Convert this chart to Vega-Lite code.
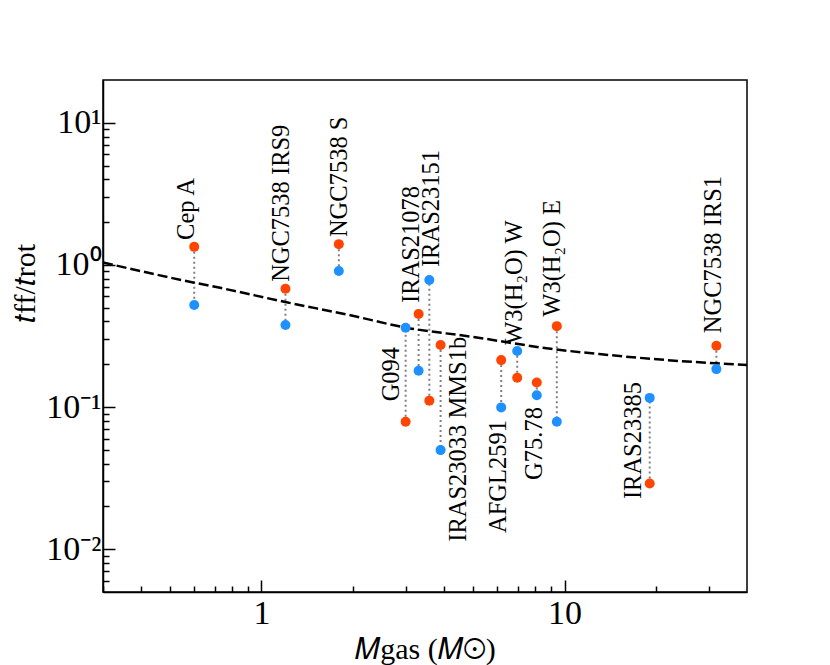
{
  "$schema": "https://vega.github.io/schema/vega-lite/v6.json",
  "width": 644,
  "height": 512,
  "autosize": "none",
  "padding": {"left": 103, "top": 80, "right": 83, "bottom": 73},
  "background": "white",
  "config": {
    "view": {"stroke": "black", "strokeWidth": 1.5},
    "font": "Liberation Serif",
    "axis": {
      "domainColor": "black", "domainWidth": 1.5, "tickColor": "black", "tickWidth": 1.5,
      "grid": false, "labelFont": "Liberation Serif", "labelFontSize": 34, "labelColor": "black",
      "titleFont": "Liberation Serif", "titleFontSize": 30, "titleFontWeight": "normal", "titleColor": "black"
    }
  },
  "datasets": {
    "objects": [
      {"name": "Cep A", "M": 0.6, "red": 1.34, "blue": 0.522},
      {"name": "NGC7538 IRS9", "M": 1.2, "red": 0.68, "blue": 0.378},
      {"name": "NGC7538 S", "M": 1.8, "red": 1.40, "blue": 0.906},
      {"name": "G094", "M": 2.99, "red": 0.0788, "blue": 0.361},
      {"name": "IRAS21078", "M": 3.30, "red": 0.452, "blue": 0.18},
      {"name": "IRAS23151", "M": 3.58, "red": 0.111, "blue": 0.783},
      {"name": "IRAS23033 MMS1b", "M": 3.90, "red": 0.273, "blue": 0.0498},
      {"name": "AFGL2591", "M": 6.18, "red": 0.214, "blue": 0.0995},
      {"name": "W3(H2O) W", "M": 6.98, "red": 0.161, "blue": 0.248},
      {"name": "G75.78", "M": 8.1, "red": 0.149, "blue": 0.121},
      {"name": "W3(H2O) E", "M": 9.43, "red": 0.371, "blue": 0.0788},
      {"name": "IRAS23385", "M": 19.1, "red": 0.029, "blue": 0.116},
      {"name": "NGC7538 IRS1", "M": 31.7, "red": 0.27, "blue": 0.185}
    ],
    "curve": [
      {"M": 0.3, "r": 1.04},
      {"M": 0.6, "r": 0.75},
      {"M": 0.73, "r": 0.69},
      {"M": 1.2, "r": 0.548},
      {"M": 1.95, "r": 0.444},
      {"M": 3.0, "r": 0.362},
      {"M": 4.86, "r": 0.314},
      {"M": 9.4, "r": 0.254},
      {"M": 13.0, "r": 0.236},
      {"M": 31.7, "r": 0.203},
      {"M": 40, "r": 0.198}
    ],
    "labels": [
      {"label": "Cep A", "lx": 0.57, "ly": 1.50, "side": "above"},
      {"label": "NGC7538 IRS9", "lx": 1.17, "ly": 0.76, "side": "above"},
      {"label": "NGC7538 S", "lx": 1.81, "ly": 1.57, "side": "above"},
      {"label": "IRAS21078", "lx": 3.15, "ly": 0.54, "side": "above"},
      {"label": "IRAS23151", "lx": 3.64, "ly": 0.966, "side": "above"},
      {"label": "W3(H₂O) W", "lx": 6.84, "ly": 0.274, "side": "above"},
      {"label": "W3(H₂O) E", "lx": 9.13, "ly": 0.432, "side": "above"},
      {"label": "NGC7538 IRS1", "lx": 31.2, "ly": 0.331, "side": "above"},
      {"label": "G094", "lx": 2.69, "ly": 0.265, "side": "below"},
      {"label": "IRAS23033 MMS1b", "lx": 4.5, "ly": 0.312, "side": "below"},
      {"label": "AFGL2591", "lx": 6.1, "ly": 0.081, "side": "below"},
      {"label": "G75.78", "lx": 7.96, "ly": 0.1, "side": "below"},
      {"label": "IRAS23385", "lx": 17.0, "ly": 0.15, "side": "below"}
    ]
  },
  "layer": [
    {
      "data": {"name": "objects"},
      "mark": {"type": "rule", "color": "#808080", "strokeWidth": 2, "strokeDash": [2, 3]},
      "encoding": {
        "x": {"field": "M", "type": "quantitative",
          "scale": {"type": "log", "domain": [0.3, 40], "nice": false},
          "axis": {"orient": "bottom", "values": [1, 10], "tickSize": -12, "labelPadding": 16, "labelExpr": "datum.value == 1 ? '1' : '10'",
            "title": "𝑀gas (𝑀⊙)", "titlePadding": 4}},
        "y": {"field": "red", "type": "quantitative",
          "scale": {"type": "log", "domain": [0.005, 20], "nice": false},
          "axis": {"orient": "left", "values": [0.01, 0.1, 1, 10], "tickSize": -12, "labelPadding": 14,
            "labelExpr": "datum.value == 10 ? '10¹' : datum.value == 1 ? '10⁰' : datum.value == 0.1 ? '10⁻¹' : '10⁻²'",
            "title": "𝑡ff/𝑡rot", "titleAngle": 270, "titleX": -78, "titleY": 203, "titleBaseline": "middle", "titleAlign": "center"}},
        "y2": {"field": "blue"}
      }
    },
    {
      "data": {"name": "curve"},
      "mark": {"type": "line", "color": "black", "strokeWidth": 2.5, "strokeDash": [10, 4], "interpolate": "monotone"},
      "encoding": {
        "x": {"field": "M", "type": "quantitative",
          "axis": {"orient": "bottom", "values": [0.3, 0.4, 0.5, 0.6, 0.7, 0.8, 0.9, 2, 3, 4, 5, 6, 7, 8, 9, 20, 30], "tickSize": -6, "labels": false, "domain": false, "title": null}},
        "y": {"field": "r", "type": "quantitative",
          "axis": {"orient": "left", "values": [0.006, 0.007, 0.008, 0.009, 0.02, 0.03, 0.04, 0.05, 0.06, 0.07, 0.08, 0.09, 0.2, 0.3, 0.4, 0.5, 0.6, 0.7, 0.8, 0.9, 2, 3, 4, 5, 6, 7, 8, 9], "tickSize": -6, "labels": false, "domain": false, "title": null}}
      }
    },
    {
      "data": {"name": "objects"},
      "mark": {"type": "circle", "size": 100, "opacity": 1, "color": "#FF4500"},
      "encoding": {
        "x": {"field": "M", "type": "quantitative", "axis": null},
        "y": {"field": "red", "type": "quantitative", "axis": null}
      }
    },
    {
      "data": {"name": "objects"},
      "mark": {"type": "circle", "size": 100, "opacity": 1, "color": "#1E90FF"},
      "encoding": {
        "x": {"field": "M", "type": "quantitative", "axis": null},
        "y": {"field": "blue", "type": "quantitative", "axis": null}
      }
    },
    {
      "data": {"name": "labels"},
      "transform": [{"filter": "datum.side == 'above'"}],
      "mark": {"type": "text", "angle": 270, "align": "left", "baseline": "middle", "fontSize": 24.5, "font": "Liberation Serif", "color": "black"},
      "encoding": {
        "x": {"field": "lx", "type": "quantitative", "axis": null},
        "y": {"field": "ly", "type": "quantitative", "axis": null},
        "text": {"field": "label"}
      }
    },
    {
      "data": {"name": "labels"},
      "transform": [{"filter": "datum.side == 'below'"}],
      "mark": {"type": "text", "angle": 270, "align": "right", "baseline": "middle", "fontSize": 24.5, "font": "Liberation Serif", "color": "black"},
      "encoding": {
        "x": {"field": "lx", "type": "quantitative", "axis": null},
        "y": {"field": "ly", "type": "quantitative", "axis": null},
        "text": {"field": "label"}
      }
    }
  ],
  "resolve": {"axis": {"x": "independent", "y": "independent"}}
}
